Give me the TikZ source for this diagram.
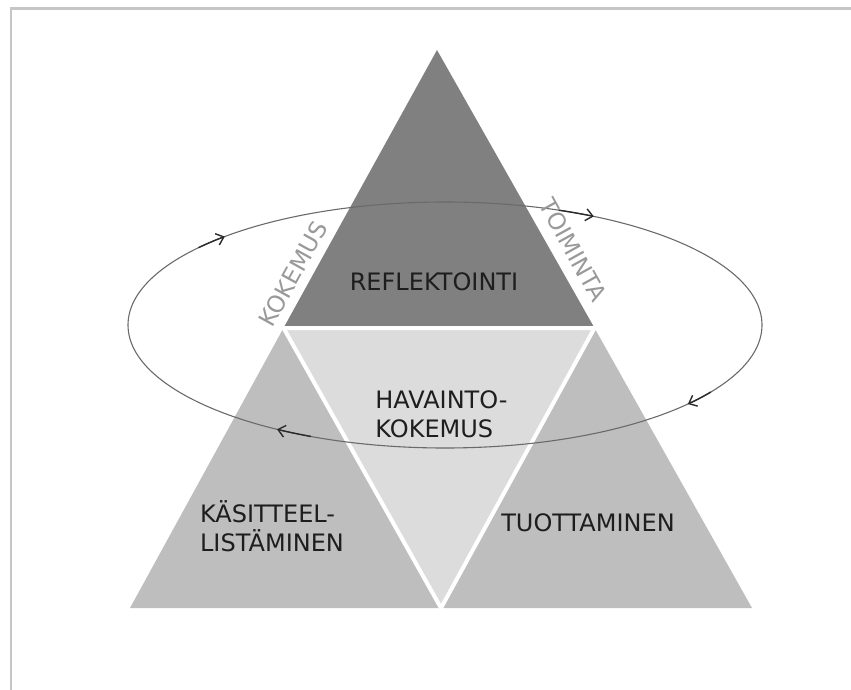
\documentclass[tikz,border=0pt]{standalone}
\usepackage{fontspec}
\setmainfont{DejaVu Sans}
\usetikzlibrary{arrows.meta}
\definecolor{topgray}{HTML}{808080}
\definecolor{midgray}{HTML}{DCDCDC}
\definecolor{sidegray}{HTML}{BEBEBE}
\definecolor{framegray}{HTML}{C6C6C6}
\definecolor{ringgray}{HTML}{6A6A6A}
\definecolor{tipgray}{HTML}{2A2A2A}
\definecolor{labelink}{HTML}{1E1E1E}
\definecolor{sideink}{HTML}{999999}
\begin{document}
\begin{tikzpicture}[x=1pt,y=-1pt,
  mainlabel/.style={font=\fontsize{24}{29}\selectfont, text=labelink, inner sep=0pt},
  edgelabel/.style={font=\fontsize{23.5}{28}\selectfont, text=sideink, inner sep=0pt},
  ring/.style={draw=ringgray, line width=1.1pt},
  ringtip/.style={draw=tipgray, line width=1.4pt, -{Straight Barb[length=7pt,width=12pt]}},
  seam/.style={draw=white, line width=4pt, line join=miter}]
\useasboundingbox (0,0) rectangle (851,690);
% frame (only the top and left edges fall inside the page)
\draw[framegray, line width=2.5pt] (10.8,700) -- (10.8,8.7) -- (860,8.7);

% corners of the large triangle and the midpoints of its sides
\coordinate (A)  at (437,50);
\coordinate (B)  at (130,608);
\coordinate (C)  at (752,608);
\coordinate (AB) at (283.5,328);
\coordinate (AC) at (594.5,328);
\coordinate (BC) at (441,608);

% the four sub-triangles
\fill[topgray]  (A) -- (AB) -- (AC) -- cycle;
\fill[sidegray] (AB) -- (B) -- (BC) -- cycle;
\fill[sidegray] (AC) -- (BC) -- (C) -- cycle;
\fill[midgray]  (AB) -- (AC) -- (BC) -- cycle;
\draw[seam] (AB) -- (AC) -- (BC) -- cycle;

% cycle ellipse with clockwise arrow heads
\coordinate (O) at (445,325);
\draw[ring] (O) ellipse [x radius=317, y radius=123];
\foreach \a in {226,298,40,122}{
  \draw[ringtip] (O) ++(\a-7:317 and 123)
    arc[start angle=\a-7, end angle=\a, x radius=317, y radius=123];
}

% labels
\node[mainlabel] (refl) at (434,281.5) {REFLEKTOINTI};
\node[mainlabel, align=left] (hav) at (441.5,414) {HAVAINTO-\\KOKEMUS};
\node[mainlabel, align=left] (kas) at (272,526) {KÄSITTEEL-\\LISTÄMINEN};
\node[mainlabel] (tuo) at (588,523) {TUOTTAMINEN};
\node[edgelabel, rotate=61] (kok) at (293,274) {KOKEMUS};
\node[edgelabel, rotate=-61] (toi) at (573,250) {TOIMINTA};
\end{tikzpicture}
\end{document}
